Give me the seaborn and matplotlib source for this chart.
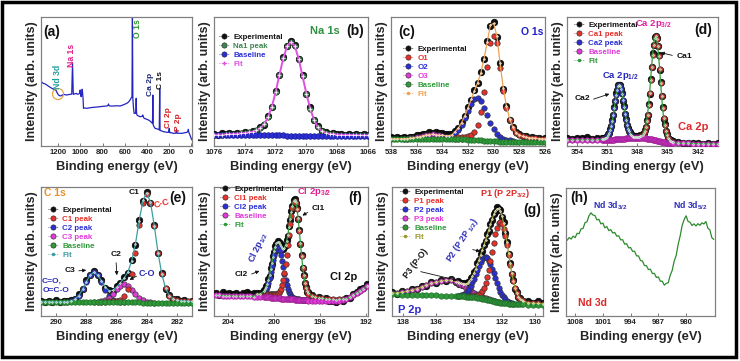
import numpy as np
import matplotlib
matplotlib.use("Agg")
import matplotlib.pyplot as plt
import seaborn as sns
from matplotlib.lines import Line2D
from matplotlib.patches import Rectangle, Ellipse, FancyArrowPatch

# ---------------- (a) survey ----------------
a_energy = [1353, 1335, 1317, 1295, 1272, 1255, 1242, 1230, 1218, 1208,
            1197, 1186, 1176, 1165, 1152, 1137, 1122, 1107, 1092, 1078,
            1071, 1064, 1050, 1038, 1027, 1017, 1005, 1002, 998, 993,
            988, 984, 980, 976, 972, 960, 941, 910, 882, 850,
            822, 790, 761, 750, 747, 743, 732, 700, 670, 642,
            610, 581, 565, 552, 540, 535, 531, 527, 522, 516,
            504, 500, 497, 494, 490, 475, 462, 445, 440, 438,
            434, 426, 405, 387, 375, 365, 354, 350, 347, 344,
            335, 327, 310, 297, 289, 285, 282, 270, 252, 235,
            221, 205, 199, 195, 180, 162, 140, 133, 128, 110,
            86, 70, 57, 40, 30, 27, 24, 15, 8, 0, -5]
a_counts = [49.8, 48.6, 48.1, 46.8, 45.5, 44.6, 44.0, 43.8, 42.9, 41.0,
            39.5, 39.0, 38.8, 39.4, 40.0, 39.8, 39.5, 39.9, 40.0, 40.3,
            64.6, 40.0, 40.5, 40.8, 40.1, 40.3, 41.0, 43.4, 40.0, 38.2,
            40.5, 44.0, 41.0, 37.0, 29.2, 29.5, 29.2, 29.7, 30.0, 30.2,
            30.5, 30.8, 31.0, 31.5, 32.6, 31.4, 31.0, 31.0, 31.2, 31.0,
            32.0, 33.1, 34.2, 35.7, 37.5, 38.2, 99.8, 37.0, 30.0, 25.3,
            25.3, 27.0, 37.0, 26.0, 24.0, 23.2, 22.7, 23.0, 23.5, 24.0,
            23.0, 21.5, 20.8, 20.2, 19.5, 18.8, 17.8, 17.6, 39.5, 16.3,
            14.8, 13.7, 13.3, 12.9, 12.6, 44.7, 12.0, 11.8, 11.1, 10.9,
            10.6, 10.6, 13.7, 10.4, 10.3, 9.8, 9.9, 12.9, 9.8, 9.9,
            9.8, 10.1, 10.3, 10.6, 11.5, 12.9, 11.0, 9.0, 7.5, 5.5, 4.7]
a_ticks = [1200, 1000, 800, 600, 400, 200, 0]

# ---------------- (b) Na 1s ----------------
b_energy = np.round(np.linspace(1076, 1066, 41), 2)
b_exp = [9.5, 8.6, 9.8, 9.0, 9.9, 9.2, 10.4, 9.6, 10.8, 10.2,
         11.8, 12.0, 14.6, 16.5, 23.2, 30.0, 42.8, 55.0, 69.2, 77.2,
         81.6, 78.4, 67.4, 55.2, 40.4, 30.1, 20.0, 15.6, 11.5, 11.1,
         9.6, 10.0, 9.0, 9.6, 8.8, 9.3, 8.7, 9.2, 8.6, 9.1, 8.9]
b_base = [8.3, 8.3, 8.3, 8.3, 8.3, 8.3, 8.3, 8.3, 8.3, 8.3, 8.3, 8.3, 8.3, 8.3,
          8.25, 8.25, 8.2, 8.2, 8.15, 8.1, 8.1, 8.05,
          8.0, 8.0, 8.0, 8.0, 8.0, 8.0, 8.0, 8.0, 8.0, 8.0, 8.0, 8.0, 8.0, 8.0,
          8.0, 8.0, 8.0, 8.0, 8.0]
b_na1 = [0.4, 0.5, 0.6, 0.7, 0.8, 1.0, 1.2, 1.5, 1.8, 2.2,
         2.7, 3.8, 5.5, 8.5, 14.0, 22.0, 33.5, 47.0, 60.0, 69.3,
         72.5, 69.3, 59.5, 46.0, 32.5, 21.0, 12.0, 6.5, 3.5, 2.2,
         1.5, 1.1, 0.9, 0.7, 0.6, 0.5, 0.5, 0.4, 0.4, 0.3, 0.3]
b_ticks = [1076, 1074, 1072, 1070, 1068, 1066]

# ---------------- (c) O 1s ----------------
c_energy = np.round(np.linspace(538, 526, 49), 2)
c_exp = [6.8, 6.0, 6.6, 6.1, 6.9, 6.4, 7.3, 7.0, 8.3, 8.2,
         9.5, 9.4, 10.8, 10.1, 11.0, 9.8, 9.9, 9.1, 9.3, 9.4,
         11.6, 13.7, 18.6, 23.0, 30.2, 35.8, 43.4, 48.6, 57.2, 67.2,
         81.3, 93.4, 95.8, 84.8, 64.6, 44.0, 31.2, 20.3, 15.1, 10.5,
         9.4, 7.6, 7.7, 6.5, 6.9, 5.9, 6.3, 5.6, 6.1]
c_base = [5.6, 5.6, 5.6, 5.6, 5.6, 5.6, 5.6, 5.6, 5.6, 5.6,
          5.5, 5.5, 5.5, 5.5, 5.5, 5.5, 5.5, 5.5,
          5.4, 5.4, 5.3, 5.3, 5.2, 5.1, 5.0, 4.9, 4.7, 4.5, 4.3, 4.1,
          3.9, 3.7, 3.6, 3.5, 3.4, 3.4, 3.3, 3.3, 3.3,
          3.3, 3.3, 3.3, 3.3, 3.3, 3.3, 3.3, 3.3, 3.3, 3.3]
c_o1_start, c_o1 = 533.0, [1.2, 1.4, 1.6, 1.9, 2.4, 3.6, 6.5, 12.0, 22.0, 38.0,
                           57.0, 76.0, 82.0, 76.0, 57.0, 39.0, 26.0, 16.5, 10.5, 7.0,
                           5.2, 4.2, 3.6, 3.2, 2.9, 2.7, 2.5, 2.4, 2.3]
c_o2_start, c_o2 = 534.0, [0.8, 1.1, 1.7, 2.7, 4.4, 7.2, 11.2, 16.4, 22.2, 27.7,
                           31.6, 32.6, 30.3, 25.6, 19.8, 14.2, 9.4, 5.9, 3.6, 2.2,
                           1.4, 1.0, 0.75]
c_o3_start, c_o3 = 537.0, [0.1, 0.2, 0.4, 0.7, 1.1, 1.7, 2.3, 3.0, 3.4, 3.5,
                           3.3, 2.7, 2.0, 1.4, 0.9, 0.5, 0.3, 0.15, 0.1]
c_ticks = [538, 536, 534, 532, 530, 528, 526]

# ---------------- (d) Ca 2p ----------------
d_energy = np.round(np.concatenate([np.linspace(355, 352, 7),
                                    np.linspace(351.5, 344.5, 71),
                                    np.linspace(344, 340, 9)]), 2)
d_exp = [6.3, 5.6, 6.5, 5.9, 6.6, 5.8, 6.2,
         6.1, 5.5, 6.3, 6.0, 7.1, 7.3, 9.2, 10.4, 13.0, 15.3,
         20.4, 24.0, 30.4, 34.6, 40.8, 43.5, 47.4, 47.2, 47.5, 43.8,
         41.2, 35.1, 31.1, 24.8, 21.2, 16.3, 14.1, 11.5, 10.5, 8.6,
         8.5, 7.4, 7.9, 7.0, 7.7, 6.9, 7.6, 7.3, 8.2, 7.9,
         9.4, 10.0, 12.7, 15.0, 20.1, 24.2, 32.8, 40.6, 52.0, 61.0,
         71.8, 78.3, 84.6, 85.0, 84.1, 77.4, 70.5, 59.2, 50.0, 38.4,
         30.1, 21.3, 16.9, 11.6, 9.3, 6.4, 5.7, 4.1, 4.3, 3.3, 3.6,
         2.9, 2.3, 2.6, 2.0, 2.4, 1.8, 2.2, 1.7, 2.1]
d_base = [4.8, 4.8, 4.8, 4.8, 4.8, 4.8, 4.8,
          4.8, 4.8, 4.8, 4.8, 4.8, 4.8, 4.8, 4.85, 4.85, 4.9,
          4.9, 4.95, 5.0, 5.05, 5.15, 5.2, 5.3, 5.35, 5.45, 5.5,
          5.6, 5.65, 5.75, 5.8, 5.85, 5.9, 5.95, 6.0, 6.05, 6.1,
          6.1, 6.1, 6.15, 6.2, 6.2, 6.2, 6.2, 6.2, 6.15, 6.1,
          6.1, 6.0, 5.9, 5.85, 5.75, 5.7, 5.55, 5.4, 5.25, 5.1,
          4.9, 4.7, 4.5, 4.3, 4.1, 3.9, 3.7, 3.5, 3.35, 3.2,
          3.0, 2.9, 2.8, 2.7, 2.6, 2.5, 2.45, 2.4, 2.35, 2.3, 2.3,
          2.1, 2.05, 2.0, 1.9, 1.8, 1.75, 1.7, 1.65, 1.6]
d_ca2_start, d_ca2 = 351.5, [0.5, 0.6, 0.8, 1.1, 1.6, 2.4, 3.6, 5.4, 7.2, 10.5,
                             14.5, 19.2, 24.4, 29.7, 34.6, 38.5, 41.1, 42.0, 41.1, 38.5,
                             34.6, 29.7, 24.4, 19.2, 14.5, 10.5, 7.2, 5.4, 3.6, 2.4,
                             1.6, 1.1, 0.8, 0.6, 0.5, 0.4]
d_ca1_start, d_ca1 = 348.0, [0.6, 0.7, 1.0, 1.3, 1.8, 2.6, 4.0, 6.0, 9.1, 13.4,
                             18.7, 26.3, 35.5, 45.7, 56.1, 65.9, 73.9, 79.1, 81.0, 79.1,
                             73.9, 65.9, 56.1, 45.7, 35.5, 26.3, 18.7, 13.4, 9.1, 6.0,
                             4.0, 2.6, 1.8, 1.3, 1.0, 0.7]
d_ticks = [354, 351, 348, 345, 342]

# ---------------- (e) C 1s ----------------
e_energy = np.round(np.linspace(291, 281, 41), 2)
e_exp = [12.0, 11.0, 11.8, 10.9, 12.1, 11.2, 11.9, 11.3, 12.6, 13.1,
         16.8, 20.6, 27.6, 31.7, 34.8, 32.0, 28.1, 22.0, 20.2, 19.5,
         22.9, 25.2, 30.1, 33.5, 43.3, 55.0, 74.4, 89.0, 96.0, 87.5,
         70.8, 48.5, 33.1, 21.0, 16.3, 12.9, 12.8, 11.5, 12.1, 11.2, 11.8]
e_base = [11.0, 11.0, 11.0, 11.0, 11.0, 11.0, 11.0,
          10.95, 10.95, 10.9, 10.9, 10.85, 10.85, 10.8, 10.8, 10.75, 10.75,
          10.7, 10.7, 10.65, 10.65, 10.6, 10.6, 10.55, 10.55, 10.5, 10.5,
          10.45, 10.45, 10.4, 10.4, 10.4, 10.35, 10.35, 10.3, 10.3, 10.3,
          10.25, 10.25, 10.2, 10.2]
e_c1_start, e_c1 = 287.0, [0.45, 0.5, 0.6, 0.7, 1.1, 2.1, 4.7, 10.6, 22.1, 38.7,
                           59.7, 77.5, 84.5, 77.5, 59.7, 38.7, 22.1, 11.0, 5.5, 3.0,
                           2.0, 1.6, 1.4, 1.3, 1.2]
e_c2_start, e_c2 = 289.5, [0.05, 0.2, 0.7, 2.1, 4.9, 9.7, 15.7, 20.9, 23.0, 20.9,
                           15.7, 9.7, 4.9, 2.1, 0.7, 0.2, 0.05]
e_c3_start, e_c3 = 287.5, [0.05, 0.2, 0.6, 1.6, 3.5, 6.4, 9.9, 12.8, 14.0, 12.8,
                           9.9, 6.4, 3.5, 1.6, 0.6, 0.2, 0.05]
e_ticks = [290, 288, 286, 284, 282]

# ---------------- (f) Cl 2p ----------------
f_energy = np.round(np.concatenate([np.linspace(205.1, 201.2, 14),
                                    np.linspace(200.9, 197.0, 40),
                                    np.linspace(196.7, 191.9, 17)]), 2)
f_exp = [17.8, 16.4, 18.6, 17.0, 18.2, 16.9, 17.9, 16.6, 17.5, 18.4, 16.9, 17.8, 18.0, 17.6,
         19.8, 19.9, 23.1, 24.0, 28.5, 31.0, 36.9, 40.4, 46.5, 49.6,
         54.5, 55.8, 58.3, 56.8, 56.7, 53.9, 53.6, 51.6, 53.4, 54.7,
         59.0, 62.4, 69.4, 74.2, 81.2, 85.0, 90.1, 91.0, 87.6, 84.0,
         74.9, 67.0, 55.7, 47.3, 37.2, 32.0, 25.4, 22.6, 18.8, 18.3,
         15.9, 14.0, 14.6, 12.6, 13.9, 11.4, 12.0, 10.5, 12.3, 11.6,
         13.8, 14.2, 17.0, 18.5, 20.6, 21.8, 24.5]
f_base = [16.0, 15.9, 15.8, 15.7, 15.6, 15.5, 15.4, 15.35, 15.3, 15.2, 15.15, 15.1, 15.0, 14.9,
          14.8, 14.75, 14.7, 14.6, 14.5, 14.4, 14.3, 14.2, 14.1, 14.0,
          13.9, 13.8, 13.7, 13.65, 13.6, 13.5, 13.45, 13.4, 13.3, 13.25,
          13.2, 13.1, 13.05, 13.0, 12.9, 12.85, 12.8, 12.7, 12.65, 12.6,
          12.5, 12.45, 12.4, 12.3, 12.25, 12.2, 12.15, 12.1, 12.05, 12.0,
          11.9, 11.8, 11.7, 11.6, 11.55, 11.5, 11.5, 11.6, 11.9, 12.4,
          13.3, 14.6, 16.2, 17.8, 19.5, 21.2, 23.0]
f_cl1_start, f_cl1 = 201.5, [1.3, 1.5,
                             1.8, 1.9, 2.0, 2.1, 2.2, 2.3, 2.4, 2.5, 2.65, 2.8,
                             3.0, 3.3, 3.8, 4.5, 5.5, 7.5, 10.5, 14.5, 20.0, 27.0,
                             34.0, 42.0, 50.0, 58.0, 65.0, 71.0, 75.3, 76.8, 75.1, 70.2,
                             62.7, 53.5, 43.6, 34.0, 25.3, 18.9, 13.5, 9.6, 7.0, 5.4,
                             3.4, 2.7, 2.4, 2.1, 1.8, 1.5, 1.3, 1.1, 1.0, 0.9]
f_cl2_start, f_cl2 = 201.5, [0.5, 0.8,
                             2.6, 3.9, 5.7, 7.9, 11.1, 15.0, 19.5, 24.3, 29.0, 33.4,
                             36.9, 39.2, 40.0, 39.2, 36.9, 33.4, 29.0, 24.3, 19.5, 15.0,
                             11.1, 7.9, 5.7, 3.9, 2.6, 1.8, 1.2, 0.8, 0.6, 0.5,
                             0.4, 0.4, 0.35, 0.3, 0.3, 0.3, 0.3, 0.3, 0.3, 0.3]
f_ticks = [204, 200, 196, 192]

# ---------------- (g) P 2p ----------------
g_energy = np.round(np.concatenate([np.linspace(138.7, 134.8, 14),
                                    np.linspace(134.7, 130.7, 41),
                                    np.linspace(130.4, 129.5, 4)]), 2)
g_exp = [18.4, 17.2, 19.0, 18.6, 20.8, 21.0, 23.1, 23.4, 26.0, 25.7, 28.0, 27.1, 28.4, 26.0,
         26.8, 25.1, 25.9, 24.4, 25.5, 24.6, 26.1, 26.6, 29.3, 30.4,
         34.2, 36.0, 40.7, 43.2, 48.1, 50.4, 55.4, 58.2, 63.5, 66.1,
         71.7, 74.4, 79.4, 81.0, 84.6, 82.8, 82.0, 77.1, 72.7, 64.5,
         57.7, 48.2, 41.3, 32.8, 27.6, 21.2, 18.4, 14.6, 13.8, 11.7, 11.9,
         11.5, 10.4, 12.0, 10.1]
g_base = [16.8, 16.7, 16.6, 16.5, 16.4, 16.3, 16.2, 16.1, 16.0, 15.9, 15.8, 15.7, 15.6, 15.5,
          15.4, 15.35, 15.3, 15.25, 15.2, 15.1, 15.0, 14.9, 14.8, 14.7,
          14.55, 14.4, 14.2, 14.0, 13.8, 13.55, 13.3, 13.0, 12.7, 12.4,
          12.1, 11.8, 11.5, 11.2, 10.9, 10.65, 10.4, 10.2, 10.0, 9.85,
          9.7, 9.6, 9.5, 9.4, 9.35, 9.3, 9.25, 9.2, 9.15, 9.1, 9.05,
          8.9, 8.8, 8.7, 8.6]
g_p1_start, g_p1 = 134.0, [0.6, 0.7, 0.8, 1.0, 1.3, 1.8, 2.7, 4.0, 5.6, 8.4,
                           12.4, 17.4, 23.4, 30.4, 37.9, 45.4, 52.2, 57.7, 61.3, 62.5,
                           61.3, 57.7, 52.2, 45.4, 37.9, 30.4, 23.4, 17.4, 12.4, 8.6,
                           5.9, 4.1, 3.0, 2.3, 1.5, 1.2, 1.0, 0.9]
g_p2_start, g_p2 = 134.7, [0.3, 0.5, 0.8, 1.3, 2.0, 3.0, 4.4, 6.2, 8.5, 11.3,
                           14.5, 18.0, 21.6, 25.0, 28.1, 30.5, 32.1, 32.6, 32.1, 30.5,
                           28.1, 25.0, 21.6, 18.0, 14.5, 11.3, 8.5, 6.2, 4.4, 3.0,
                           2.0, 1.3, 0.8, 0.5, 0.3]
g_p3_start, g_p3 = 138.7, [0.8, 1.2, 1.9, 2.7, 3.7, 4.9, 6.3, 7.8, 9.2, 10.4, 11.4, 11.9, 12.0, 11.0,
                           10.5, 9.8, 9.1, 8.4, 7.7, 6.9, 6.1, 5.4, 4.7, 4.1,
                           3.5, 2.9, 2.4, 2.0, 1.6, 1.3, 1.0, 0.8, 0.6, 0.5,
                           0.4, 0.3, 0.2, 0.15, 0.1, 0.1]
g_ticks = [138, 136, 134, 132, 130]

# ---------------- (h) Nd 3d ----------------
h_energy = np.round(np.linspace(1010, 973, 75), 2)
h_counts = [59.2, 61.3, 60.1, 62.4, 61.2, 64.6, 64.3, 68.1, 68.4, 72.9,
            73.6, 78.3, 80.6, 78.9, 78.5, 75.1, 75.5, 72.0, 72.6, 68.9,
            69.9, 66.7, 67.5, 64.8, 65.3, 62.4, 62.6, 59.5, 59.6, 56.1,
            56.5, 53.2, 53.5, 50.5, 50.6, 47.0, 46.9, 43.3, 42.9, 39.4,
            39.3, 36.3, 36.5, 33.2, 33.3, 30.1, 30.5, 27.2, 27.2, 24.1,
            25.5, 26.0, 31.8, 35.6, 42.9, 47.2, 55.9, 62.4, 70.6, 75.2,
            78.3, 73.9, 73.2, 70.7, 72.0, 70.3, 72.1, 70.8, 72.8, 71.9,
            73.8, 68.6, 67.3, 61.2, 59.8]
h_ticks = [1008, 1001, 994, 987, 980]

# ---------------- style ----------------
sns.set_theme(style="white")
plt.rcParams["font.family"] = ["Liberation Sans", "DejaVu Sans"]
plt.rcParams["font.weight"] = "bold"
plt.rcParams["axes.labelweight"] = "bold"
plt.rcParams["mathtext.fontset"] = "custom"
plt.rcParams["mathtext.rm"] = "Liberation Sans:bold"
plt.rcParams["mathtext.default"] = "regular"

K, RED, BLUE, MAG, GRN = "#111111", "#e8302a", "#2b2fd6", "#e03ad8", "#2f9a3a"
NAG, ORG, TEAL, OLIVE = "#3f8552", "#f0a050", "#3a9ea0", "#9a9a2a"

W, H = 740, 361
fig = plt.figure(figsize=(W / 100, H / 100), dpi=100)


def axes_px(x0, x1, y0, y1):
    return fig.add_axes([x0 / W, 1 - y1 / H, (x1 - x0) / W, (y1 - y0) / H])


def setup(ax, xlim, ticks):
    ax.set_xlim(*xlim)
    ax.set_ylim(0, 100)
    ax.set_xticks(ticks)
    ax.set_xticklabels([str(t) for t in ticks], fontsize=5.6, fontweight="bold")
    ax.set_yticks([])
    ax.set_xlabel("Binding energy (eV)", fontsize=9.3, fontweight="bold", labelpad=3)
    ax.set_ylabel("Intensity (arb. units)", fontsize=9, fontweight="bold", labelpad=2)
    ax.tick_params(axis="x", direction="in", length=2.5, width=0.7, pad=2.5,
                   color="#777777", labelcolor="#222222", bottom=True)
    for sp in ax.spines.values():
        sp.set_color("#808080")
        sp.set_linewidth(0.9)


def place(grid, start, vals):
    i = int(np.argmin(np.abs(grid - start)))
    v = np.asarray(vals, float)
    return i, i + len(v), v


def comp(grid, base, start, vals):
    i, j, v = place(grid, start, vals)
    return grid[i:j], base[i:j] + v


def total_fit(grid, base, comps):
    f = base.copy()
    for start, vals in comps:
        i, j, v = place(grid, start, vals)
        f[i:j] += v
    return f


def dots(ax, x, y, color, s=16, ec=None, z=3):
    sns.scatterplot(x=x, y=y, ax=ax, color=color, s=s, edgecolor=ec or color,
                    linewidth=0.5, legend=False, zorder=z)


def fitline(ax, x, y, color, lw=1.0, ms=2.2, marker="."):
    sns.lineplot(x=x, y=y, ax=ax, color=color, lw=lw, marker=marker, markersize=ms,
                 markeredgewidth=0.5, estimator=None, sort=False, legend=False, zorder=6)


def legend(ax, labels, colors, left, top, fitmarker="."):
    handles = []
    for k, c in enumerate(colors):
        if labels[k] == "Fit":
            handles.append(Line2D([], [], color=c, marker=fitmarker, ms=3, lw=0.6, ls=":"))
        else:
            handles.append(Line2D([], [], color=c, marker="o", ms=3.8, lw=0.6, ls=":",
                                  markeredgecolor="#222222", markeredgewidth=0.4))
    ax.legend(handles, labels, loc="upper left", bbox_to_anchor=(left / W, 1 - top / H),
              bbox_transform=fig.transFigure, frameon=False,
              prop={"size": 5.7, "weight": "bold"}, labelcolor=colors,
              handlelength=1.3, handletextpad=0.5, labelspacing=0.2,
              borderpad=0, borderaxespad=0)


def T(x, y, s, size=6.5, color=K, rot=0, ha="center", va="center"):
    fig.text(x / W, 1 - y / H, s, fontsize=size, color=color, rotation=rot,
             ha=ha, va=va, fontweight="bold")


def A(x1, y1, x2, y2, color=K):
    fig.add_artist(FancyArrowPatch((x1 / W, 1 - y1 / H), (x2 / W, 1 - y2 / H),
                                   transform=fig.transFigure, arrowstyle="-|>",
                                   mutation_scale=5, lw=0.6, color=color))


R1 = (17, 146)
R2 = (187, 316)

# ---- (a)
ax = axes_px(41, 192, *R1)
setup(ax, (1355, -6), a_ticks)
sns.lineplot(x=a_energy, y=a_counts, ax=ax, color="#2424c0", lw=0.9,
             estimator=None, sort=False, legend=False)
T(43, 32, "(a)", size=10, ha="left")
T(57, 77, "Nd 3d", size=6.2, color="#1f9e9e", rot=90)
T(71, 55, "Na 1s", size=6.2, color="#e0208a", rot=90)
T(137, 29, "O 1s", size=6.2, color="#2e9a2e", rot=90)
T(151, 84, "Ca 2p", size=6.0, color="#1e2a7a", rot=90)
T(161, 80, "C 1s", size=6.0, color=K, rot=90)
T(168, 118, "Cl 2p", size=6.0, color="#d42020", rot=90)
T(178, 122, "P 2p", size=6.0, color="#d42020", rot=90)
fig.add_artist(Ellipse((58 / W, 1 - 94 / H), 11 / W, 11 / H, transform=fig.transFigure,
                       fill=False, ec="#e0a030", lw=0.8))

# ---- (b)
ax = axes_px(214, 368, *R1)
setup(ax, (1076, 1066), b_ticks)
bb = np.array(b_base)
dots(ax, b_energy, b_exp, K, s=22, ec="#000000", z=3)
dots(ax, b_energy, bb + np.array(b_na1), NAG, s=15, ec="#24452c", z=4)
dots(ax, b_energy, bb, BLUE, s=16, ec="#1a1a90", z=4)
fitline(ax, b_energy, bb + np.array(b_na1), "#e050e0", lw=1.4, ms=3, marker="+")
legend(ax, ["Experimental", "Na1 peak", "Baseline", "Fit"], [K, NAG, BLUE, "#e050e0"], 219, 33,
       fitmarker="+")
T(325, 31, "Na 1s", size=8, color="#2e9040")
T(355, 31, "(b)", size=10)

# ---- (c)
ax = axes_px(391, 545, *R1)
setup(ax, (538, 526), c_ticks)
cb = np.array(c_base)
dots(ax, c_energy, c_exp, K, s=22, ec="#000000", z=3)
for start, vals, col in [(c_o3_start, c_o3, MAG), (c_o2_start, c_o2, BLUE), (c_o1_start, c_o1, RED)]:
    x, y = comp(c_energy, cb, start, vals)
    dots(ax, x, y, col, s=15, ec="#333333", z=4)
dots(ax, c_energy, cb, GRN, s=15, ec="#1f6a28", z=4)
fitline(ax, c_energy, total_fit(c_energy, cb, [(c_o1_start, c_o1), (c_o2_start, c_o2), (c_o3_start, c_o3)]),
        ORG, lw=0.9)
legend(ax, ["Experimental", "O1", "O2", "O3", "Baseline", "Fit"], [K, RED, BLUE, MAG, GRN, ORG], 403, 45)
T(407, 32, "(c)", size=10)
T(532, 32, "O 1s", size=7.5, color="#2020c8")

# ---- (d)
ax = axes_px(567, 718, *R1)
setup(ax, (355, 340), d_ticks)
db = np.array(d_base)
dots(ax, d_energy, d_exp, K, s=22, ec="#000000", z=3)
for start, vals, col in [(d_ca2_start, d_ca2, BLUE), (d_ca1_start, d_ca1, RED)]:
    x, y = comp(d_energy, db, start, vals)
    dots(ax, x, y, col, s=15, ec="#333333", z=4)
dots(ax, d_energy, db, MAG, s=15, ec="#9a2090", z=4)
fitline(ax, d_energy, total_fit(d_energy, db, [(d_ca2_start, d_ca2), (d_ca1_start, d_ca1)]), GRN, lw=0.9)
legend(ax, ["Experimental", "Ca1 peak", "Ca2 peak", "Baseline", "Fit"], [K, RED, BLUE, MAG, GRN], 574, 21)
T(703, 30, "(d)", size=10)
T(653, 24, "Ca 2p$_{3/2}$", size=6.8, color="#e020a0")
T(684, 57, "Ca1", size=6)
A(675, 56, 658, 52)
T(620, 76, "Ca 2p$_{1/2}$", size=6.8, color="#2828b8")
T(582, 98, "Ca2", size=6)
A(591, 100, 612, 93)
T(693, 127, "Ca 2p", size=8, color="#e02828")

# ---- (e)
ax = axes_px(41, 192, *R2)
setup(ax, (291, 281), e_ticks)
eb = np.array(e_base)
dots(ax, e_energy, e_exp, K, s=22, ec="#000000", z=3)
for start, vals, col in [(e_c2_start, e_c2, BLUE), (e_c3_start, e_c3, MAG), (e_c1_start, e_c1, RED)]:
    x, y = comp(e_energy, eb, start, vals)
    dots(ax, x, y, col, s=15, ec="#333333", z=4)
dots(ax, e_energy, eb, GRN, s=15, ec="#1f6a28", z=4)
fitline(ax, e_energy, total_fit(e_energy, eb, [(e_c1_start, e_c1), (e_c2_start, e_c2), (e_c3_start, e_c3)]),
        TEAL, lw=0.9)
legend(ax, ["Experimental", "C1 peak", "C2 peak", "C3 peak", "Baseline", "Fit"],
       [K, RED, BLUE, MAG, GRN, TEAL], 48, 206)
T(55, 193, "C 1s", size=7.5, color="#e8902a")
T(178, 198, "(e)", size=10)
T(134, 192, "C1", size=6)
T(162, 204, "C-C", size=6.5, color=RED, rot=15)
T(116, 255, "C2", size=6)
A(116, 260, 117, 278)
T(147, 273, "C-O", size=6.5, color="#2a2ab8")
A(139, 275, 127, 281)
T(70, 271, "C3", size=6)
A(76, 271, 89, 270)
T(52, 281, "C=O,", size=6, color="#2a2ab8")
T(56, 290, "O=C-O", size=6, color="#2a2ab8")

# ---- (f)
ax = axes_px(214, 368, *R2)
setup(ax, (205.25, 191.8), f_ticks)
fb = np.array(f_base)
dots(ax, f_energy, f_exp, K, s=22, ec="#000000", z=3)
for start, vals, col in [(f_cl2_start, f_cl2, BLUE), (f_cl1_start, f_cl1, RED)]:
    x, y = comp(f_energy, fb, start, vals)
    dots(ax, x, y, col, s=15, ec="#333333", z=4)
dots(ax, f_energy, fb, MAG, s=15, ec="#9a2090", z=4)
fitline(ax, f_energy, total_fit(f_energy, fb, [(f_cl1_start, f_cl1), (f_cl2_start, f_cl2)]), GRN, lw=0.9)
legend(ax, ["Experimental", "Cl1 peak", "Cl2 peak", "Baseline", "Fit"], [K, RED, BLUE, MAG, GRN], 220, 185)
T(314, 192, "Cl 2p$_{3/2}$", size=6.8, color="#e02090")
T(355, 198, "(f)", size=10)
T(318, 208, "Cl1", size=6)
A(310, 211, 300, 217)
T(258, 247, "Cl 2p$_{1/2}$", size=6.5, color="#2a2ab8", rot=65)
T(241, 275, "Cl2", size=6)
A(249, 275, 262, 270)
T(344, 277, "Cl 2p", size=8)

# ---- (g)
ax = axes_px(392, 543, *R2)
setup(ax, (138.7, 129.5), g_ticks)
gb = np.array(g_base)
dots(ax, g_energy, g_exp, K, s=22, ec="#000000", z=3)
for start, vals, col in [(g_p3_start, g_p3, MAG), (g_p2_start, g_p2, BLUE), (g_p1_start, g_p1, RED)]:
    x, y = comp(g_energy, gb, start, vals)
    dots(ax, x, y, col, s=15, ec="#333333", z=4)
dots(ax, g_energy, gb, GRN, s=15, ec="#1f6a28", z=4)
fitline(ax, g_energy, total_fit(g_energy, gb, [(g_p1_start, g_p1), (g_p2_start, g_p2), (g_p3_start, g_p3)]),
        OLIVE, lw=0.9)
legend(ax, ["Experimental", "P1 peak", "P2 peak", "P3 peak", "Baseline", "Fit"],
       [K, RED, BLUE, MAG, GRN, OLIVE], 400, 188)
T(505, 193, "P1 (P 2P$_{3/2}$)", size=6.5, color="#e02828")
T(532, 210, "(g)", size=10)
T(462, 240, "P2 (P 2P $_{1/2}$)", size=6.3, color="#2a2ab8", rot=57)
A(470, 249, 483, 252)
T(416, 263, "P3 (P-O)", size=6.3, rot=53)
A(418, 271, 460, 281)
T(410, 310, "P 2p", size=8, color="#2a2ad0")

# ---- (h)
ax = axes_px(566, 715, 188, 316)
setup(ax, (1010.3, 972.7), h_ticks)
sns.lineplot(x=h_energy, y=h_counts, ax=ax, color="#2e8a2e", lw=0.9,
             estimator=None, sort=False, legend=False)
T(579, 198, "(h)", size=10)
T(610, 206, "Nd 3d$_{3/2}$", size=6.3, color="#2a2ab8")
T(690, 206, "Nd 3d$_{5/2}$", size=6.3, color="#2a2ab8")
T(592, 303, "Nd 3d", size=7.5, color="#e02828")

# outer frame
fig.add_artist(Rectangle((2 / W, 1 - 357 / H), 734 / W, 355 / H, transform=fig.transFigure,
                         fill=False, ec="black", lw=2.5))

fig.savefig("out.png", dpi=100)
